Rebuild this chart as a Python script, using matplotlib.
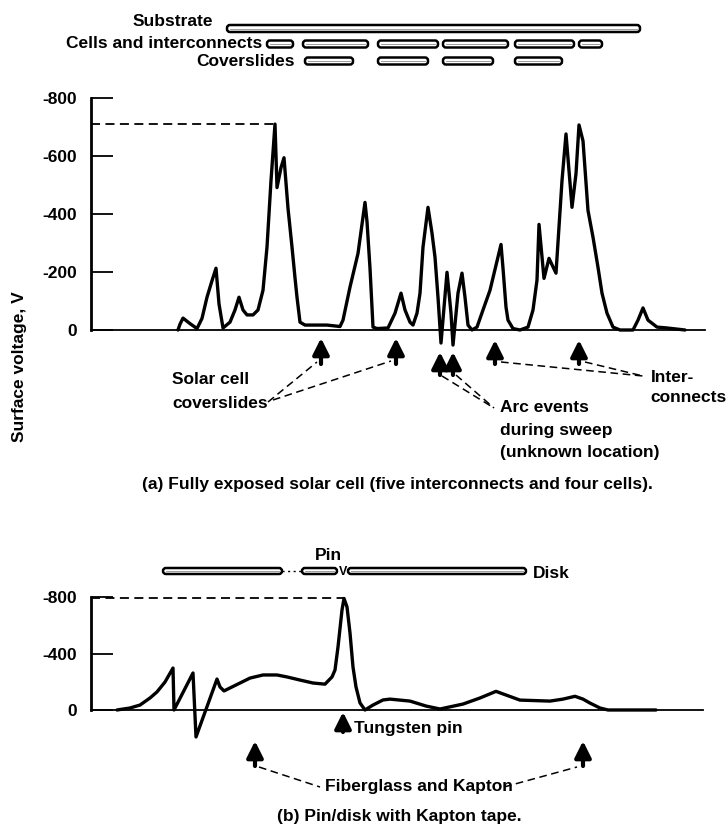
import numpy as np
import matplotlib
matplotlib.use('Agg')
import matplotlib.pyplot as plt
from matplotlib.transforms import blended_transform_factory
from matplotlib.patches import FancyBboxPatch

# ---------------- data ----------------
# (a) fully exposed solar cell: sweep position (arbitrary units) vs surface voltage (V)
pos_a = [87, 89, 92, 99, 106, 111, 116, 121, 125, 128, 132, 139, 144, 148, 152, 156,
         162, 167, 172, 176, 180, 184, 186, 190, 193, 197, 201, 204, 206, 209, 214, 236,
         249, 252, 259, 267, 274, 276, 279, 282, 286, 297, 304, 310, 314, 319, 322, 326,
         329, 332, 337, 341, 344, 347, 350, 356, 360, 362, 367, 371, 374, 377, 381, 386,
         392, 399, 410, 412, 415, 417, 422, 429, 437, 442, 446, 448, 453, 458, 465, 471,
         475, 481, 485, 488, 492, 497, 502, 507, 511, 516, 522, 529, 542, 547, 552, 557,
         566, 576, 594]
volt_a = [0, -20, -41, -22, -5, -40, -113, -170, -213, -90, -7, -27, -69, -113, -69, -52,
          -52, -69, -137, -286, -515, -710, -491, -560, -594, -420, -286, -180, -113, -27, -17, -17,
          -12, -34, -148, -264, -440, -374, -213, -10, -5, -7, -58, -127, -69, -27, -17, -58,
          -127, -286, -423, -334, -251, -113, 45, -199, -58, 52, -127, -196, -113, -17, 0, -10,
          -69, -137, -295, -213, -79, -34, -5, 0, -10, -69, -172, -364, -178, -247, -196, -515,
          -676, -423, -539, -707, -652, -412, -320, -216, -127, -58, -10, 0, 0, -34, -76, -34,
          -10, -7, 0]

# (b) pin/disk with Kapton tape
pos_b = [26, 39, 49, 59, 66, 74, 82, 83, 102, 105, 126, 129, 133, 139, 149, 159, 172,
         186, 196, 209, 222, 234, 241, 244, 247, 251, 253, 256, 259, 262, 265, 269, 274,
         282, 292, 299, 319, 335, 349, 372, 389, 405, 415, 429, 459, 472, 484, 492, 499,
         509, 517, 565]
volt_b = [0, -14, -35, -85, -128, -198, -297, 0, -262, 191, -219, -163, -135, -156, -191, -226, -248,
          -248, -234, -212, -191, -183, -234, -283, -446, -708, -790, -730, -545, -304, -163, -50, 0,
          -35, -71, -77, -63, -28, -7, -42, -85, -132, -106, -70, -63, -77, -97, -77, -49,
          -14, 0, 0]

yticks_a = [-800, -600, -400, -200, 0]
yticks_b = [-800, -400, 0]
ytick_labels_a = ['-800', '-600', '-400', '-200', '0']
ytick_labels_b = ['-800', '-400', '0']

# sample layout bars (start, end) along the sweep
substrate = [(136, 549)]
cells_interconnects = [(176, 202), (212, 277), (287, 347), (352, 417), (424, 483), (488, 511)]
coverslides = [(214, 262), (287, 337), (352, 402), (424, 471)]
pin_bars = [(72, 191), (211, 246)]
pin_gap = (191, 211)
disk_bars = [(257, 435)]
pin_mark = 252

coverslide_arrows = [230, 305]
arc_arrows = [349, 362]
interconnect_arrows = [404, 488]
tungsten_arrows = [252]
fiberglass_arrows = [164, 492]

# ---------------- figure ----------------
W, H = 726, 840
fig = plt.figure(figsize=(W / 100, H / 100), dpi=100)
FONT = ['Liberation Sans', 'DejaVu Sans']
plt.rcParams['font.family'] = FONT
TXT = dict(fontsize=12.5, fontweight='bold', color='black')


def add_ax(top, bottom, left, right):
    return fig.add_axes([left / W, 1 - bottom / H, (right - left) / W, (bottom - top) / H])


ax_a = add_ax(92.2, 359.0, 91, 705)
ax_a.set_xlim(0, 614)
ax_a.set_ylim(100, -820)

ax_b = add_ax(594.2, 746.7, 91, 703)
ax_b.set_xlim(0, 612)
ax_b.set_ylim(260, -820)

for ax, ticks, labels in ((ax_a, yticks_a, ytick_labels_a), (ax_b, yticks_b, ytick_labels_b)):
    ax.set_facecolor('none')
    for s in ('top', 'right'):
        ax.spines[s].set_visible(False)
    ax.spines['left'].set_bounds(-800, 0)
    ax.spines['left'].set_linewidth(2.0)
    ax.spines['bottom'].set_position(('data', 0))
    ax.spines['bottom'].set_linewidth(1.3)
    ax.set_xticks([])
    ax.set_yticks(ticks)
    ax.set_yticklabels(labels)
    ax.tick_params(axis='y', direction='in', length=16, width=1.3, pad=10,
                   labelsize=12.5)
    for lab in ax.get_yticklabels():
        lab.set_fontweight('bold')

# curves
ax_a.plot(pos_a, volt_a, color='black', lw=2.4, solid_joinstyle='round',
          solid_capstyle='round', clip_on=False)
ax_b.plot(pos_b, volt_b, color='black', lw=2.4, solid_joinstyle='round',
          solid_capstyle='round', clip_on=False)

# dashed peak-level lines
for ax, p, v in ((ax_a, pos_a, volt_a), (ax_b, pos_b, volt_b)):
    i = int(np.argmin(v))
    ax.plot([0, p[i]], [v[i], v[i]], color='black', lw=1.3, ls=(0, (5, 3)))

# overlay in pixel coordinates (y from top)
ov = fig.add_axes([0, 0, 1, 1])
ov.set_xlim(0, W)
ov.set_ylim(H, 0)
ov.axis('off')
ov.set_facecolor('none')

tb_a = blended_transform_factory(ax_a.transData, ov.transData)
tb_b = blended_transform_factory(ax_b.transData, ov.transData)


def px(ax, x):
    return ax.transData.transform((x, 0))[0]


def bar(tb, x0, x1, yc, h=7):
    ov.add_patch(FancyBboxPatch((x0, yc - h / 2), x1 - x0, h,
                                boxstyle='round,pad=0,rounding_size=3',
                                fc='white', ec='black', lw=1.8, transform=tb, clip_on=False))
    ov.plot([x0 + 3, x1 - 3], [yc, yc], color='0.55', lw=0.6, transform=tb, clip_on=False)


# top layout bars for (a)
for x0, x1 in substrate:
    bar(tb_a, x0, x1, 28.5)
for x0, x1 in cells_interconnects:
    bar(tb_a, x0, x1, 44)
for x0, x1 in coverslides:
    bar(tb_a, x0, x1, 61)
ov.text(213, 22, 'Substrate', ha='right', va='center', **TXT)
ov.text(262, 43, 'Cells and interconnects', ha='right', va='center', **TXT)
ov.text(295, 61, 'Coverslides', ha='right', va='center', **TXT)

# layout bars for (b)
for x0, x1 in pin_bars:
    bar(tb_b, x0, x1, 571, h=6)
ov.plot(list(pin_gap), [571, 571], color='black', lw=1.0, ls=(0, (1.5, 2.5)),
        transform=tb_b)
for x0, x1 in disk_bars:
    bar(tb_b, x0, x1, 571, h=6)
ov.text(px(ax_b, pin_mark), 572, 'V', ha='center', va='center', fontsize=9,
        fontweight='bold')
ov.text(328, 555, 'Pin', ha='center', va='center', **TXT)
ov.text(533, 573, 'Disk', ha='left', va='center', **TXT)


def arrows(ax, xs, tip, bottom):
    for x in xs:
        xp = px(ax, x)
        ov.annotate('', xy=(xp, tip), xytext=(xp, bottom), xycoords='data',
                    arrowprops=dict(arrowstyle='-|>,head_length=0.7,head_width=0.35',
                                    lw=3.0, color='black', shrinkA=0, shrinkB=0,
                                    mutation_scale=14))


arrows(ax_a, coverslide_arrows, 338, 364)
arrows(ax_a, arc_arrows, 352, 375)
arrows(ax_a, interconnect_arrows, 340, 364)
arrows(ax_b, tungsten_arrows, 712, 732)
arrows(ax_b, fiberglass_arrows, 741, 766)

LEAD = dict(color='black', lw=1.1, ls=(0, (5, 3)))
# (a) leaders
ov.plot([268, px(ax_a, coverslide_arrows[0]) - 4], [402, 362], **LEAD)
ov.plot([273, px(ax_a, coverslide_arrows[1]) - 5], [400, 361], **LEAD)
ov.plot([px(ax_a, arc_arrows[0]) + 2, 494], [376, 408], **LEAD)
ov.plot([px(ax_a, arc_arrows[1]) + 3, 494], [375, 408], **LEAD)
ov.plot([px(ax_a, interconnect_arrows[0]) + 6, 643], [362, 376], **LEAD)
ov.plot([px(ax_a, interconnect_arrows[1]) + 6, 643], [362, 376], **LEAD)
# (b) leaders
ov.plot([px(ax_b, fiberglass_arrows[0]) + 4, 320], [767, 787], **LEAD)
ov.plot([504, px(ax_b, fiberglass_arrows[1]) - 6], [787, 767], **LEAD)

# annotation texts
ov.text(172, 379, 'Solar cell', ha='left', va='center', **TXT)
ov.text(172, 403, 'coverslides', ha='left', va='center', **TXT)
ov.text(500, 408, 'Arc events', ha='left', va='center', **TXT)
ov.text(500, 431, 'during sweep', ha='left', va='center', **TXT)
ov.text(500, 453, '(unknown location)', ha='left', va='center', **TXT)
ov.text(651, 377, 'Inter-', ha='left', va='center', **TXT)
ov.text(650, 398, 'connects', ha='left', va='center', **TXT)
ov.text(397, 484, '(a) Fully exposed solar cell (five interconnects and four cells).',
        ha='center', va='center', **TXT)

ov.text(354, 729, 'Tungsten pin', ha='left', va='center', **TXT)
ov.text(325, 787, 'Fiberglass and Kapton', ha='left', va='center', **TXT)
ov.text(399, 817, '(b) Pin/disk with Kapton tape.', ha='center', va='center', **TXT)

ov.text(20, 367, 'Surface voltage, V', ha='center', va='center', rotation=90, **TXT)

fig.savefig('out.png', dpi=100)
